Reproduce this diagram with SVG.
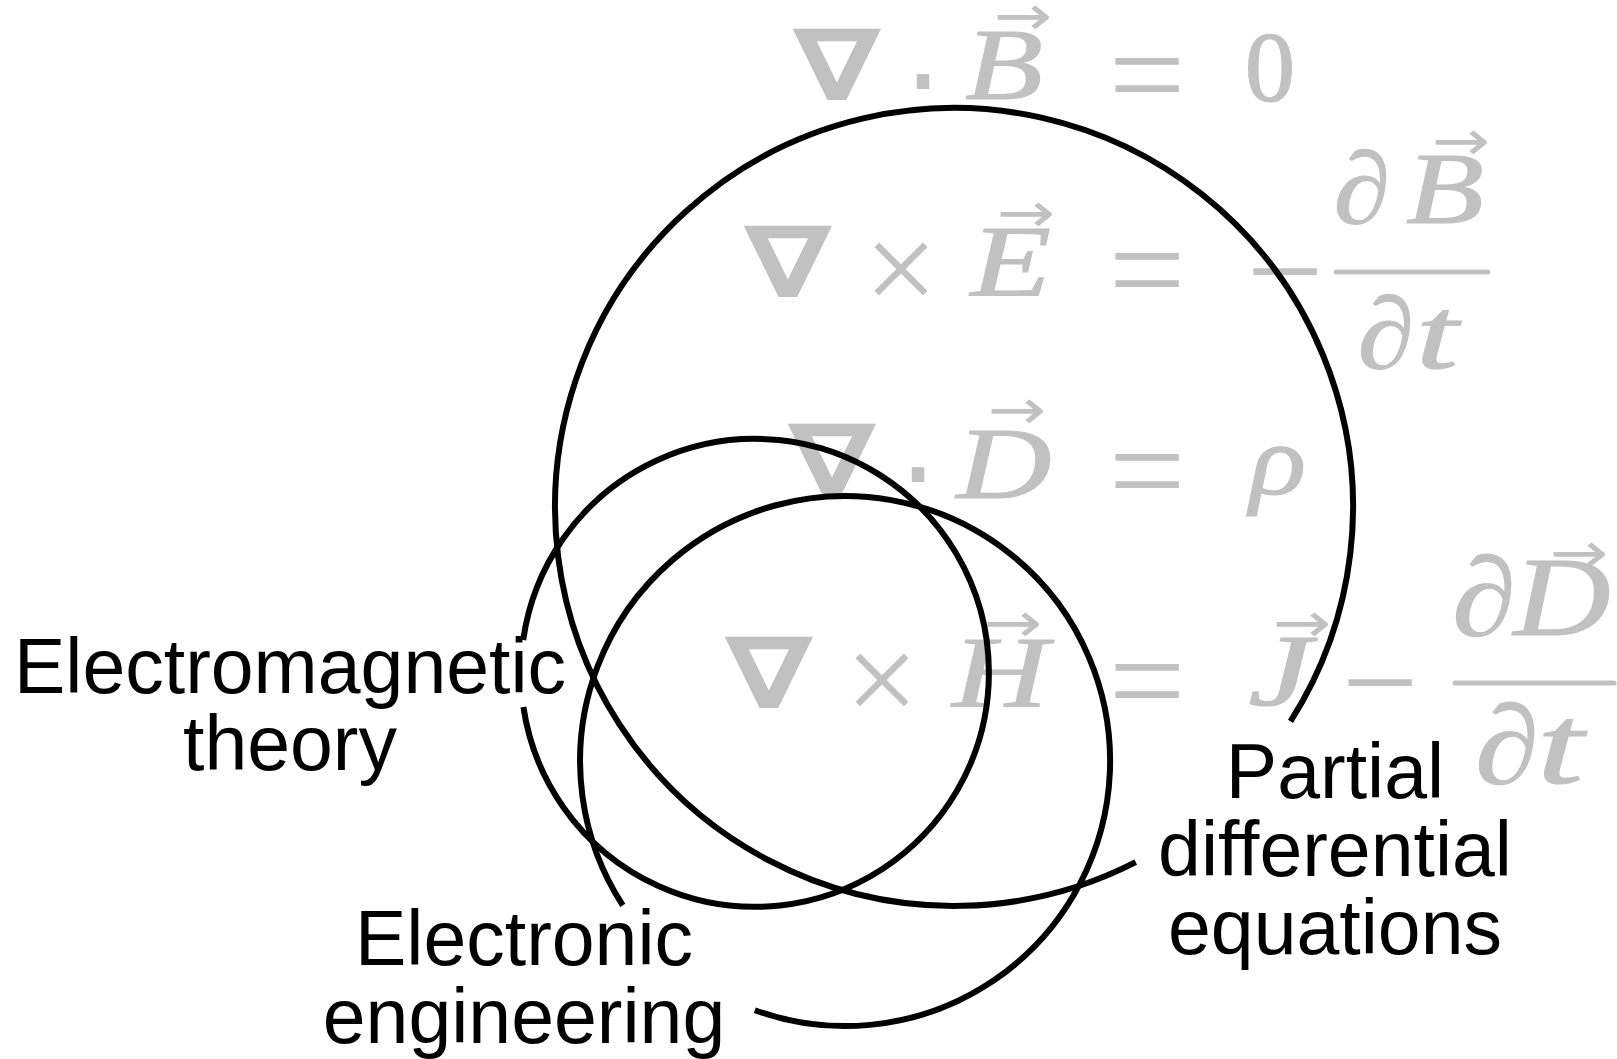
<svg xmlns="http://www.w3.org/2000/svg" width="1617" height="1059" viewBox="0 0 1617 1059">
<style>
.m{fill:#c1c1c1;text-anchor:middle}
.v{font-family:"Liberation Serif",serif;font-style:italic;font-size:102px;stroke:#c1c1c1;stroke-width:1.2}
.u{font-family:"Liberation Serif",serif;font-size:100px;stroke:#c1c1c1;stroke-width:1.5}
.op{font-family:"Liberation Serif",serif;font-size:136px}
.x{font-family:"Liberation Serif",serif;font-size:130px}
.dot{font-family:"DejaVu Sans",sans-serif;font-size:120px}
.nab{font-family:"DejaVu Sans",sans-serif;font-weight:bold;font-size:99px}
.arr{font-family:"DejaVu Sans",sans-serif;font-size:56px}
.big{font-size:112px}
.bar{stroke:#c1c1c1;stroke-width:5;stroke-linecap:round}
.c{fill:none;stroke:#000;stroke-width:6}
.lbl{font-family:"Liberation Sans",Arial,sans-serif;font-size:77px;fill:#000;text-anchor:middle}
</style>
<g id="equations">
<g id="eq1">
<text class="m nab" transform="translate(837 100) scale(1.28 1)">∇</text>
<text class="m dot" x="923" y="123">·</text>
<text class="m v" transform="translate(1004 99) scale(1.25 1)">B</text>
<text class="m arr" transform="translate(1023 35) scale(1.25 1)">→</text>
<text class="m op" x="1147" y="120">=</text>
<text class="m u" x="1270" y="100">0</text>
</g>
<g id="eq2">
<text class="m nab" transform="translate(788 297) scale(1.28 1)">∇</text>
<text class="m x" x="901" y="312">×</text>
<text class="m v" transform="translate(1011 296) scale(1.29 1)">E</text>
<text class="m arr" transform="translate(1026 232) scale(1.25 1)">→</text>
<text class="m op" x="1147" y="315">=</text>
<text class="m op" x="1285" y="317">−</text>
<line class="bar" x1="1336" y1="272" x2="1488" y2="272"/>
<text class="m v" transform="translate(1362 223) scale(1.12 1)">∂</text>
<text class="m v" transform="translate(1445 223) scale(1.25 1)">B</text>
<text class="m arr" transform="translate(1461 160) scale(1.25 1)">→</text>
<text class="m v" transform="translate(1386 368) scale(1.12 1)">∂</text>
<text class="m v" transform="translate(1437 368) scale(1.5 1)">t</text>
</g>
<g id="eq3">
<text class="m nab" transform="translate(832 495) scale(1.28 1)">∇</text>
<text class="m dot" x="918" y="516">·</text>
<text class="m v" transform="translate(1004 498) scale(1.29 1)">D</text>
<text class="m arr" transform="translate(1017 429) scale(1.25 1)">→</text>
<text class="m op" x="1147" y="516">=</text>
<text class="m v" transform="translate(1278 494) scale(1.15 1)">ρ</text>
</g>
<g id="eq4">
<text class="m nab" transform="translate(769 708) scale(1.28 1)">∇</text>
<text class="m x" x="882" y="723">×</text>
<text class="m v" transform="translate(1000 707) scale(1.3 1)">H</text>
<text class="m arr" transform="translate(1013 642) scale(1.25 1)">→</text>
<text class="m op" x="1147" y="726">=</text>
<text class="m v" transform="translate(1280 705) scale(1.4 1)">J</text>
<text class="m arr" transform="translate(1302 642) scale(1.25 1)">→</text>
<text class="m op" x="1380" y="728">−</text>
<line class="bar" x1="1455" y1="683" x2="1614" y2="683"/>
<text class="m v big" transform="translate(1484 635) scale(1.15 1)">∂</text>
<text class="m v big" transform="translate(1562 635) scale(1.2 1)">D</text>
<text class="m arr" transform="translate(1579 572) scale(1.25 1)">→</text>
<text class="m v big" transform="translate(1507 783) scale(1.15 1)">∂</text>
<text class="m v big" transform="translate(1560 783) scale(1.5 1)">t</text>
</g>
</g>
<g id="node-pde">
<path class="c" d="M 1290.5 721.4 A 399 399 0 1 0 1135.7 862.2"/>
<text class="lbl" x="1335" y="798">Partial</text>
<text class="lbl" x="1335" y="876">differential</text>
<text class="lbl" x="1335" y="954">equations</text>
</g>
<g id="node-em">
<path class="c" d="M 523.4 707 A 234 234 0 1 0 523.2 640"/>
<text class="lbl" x="290" y="693">Electromagnetic</text>
<text class="lbl" x="290" y="770">theory</text>
</g>
<g id="node-ee">
<path class="c" d="M 754.8 1010.2 A 265 265 0 1 0 622.8 905.3"/>
<text class="lbl" x="524" y="965">Electronic</text>
<text class="lbl" x="524" y="1043">engineering</text>
</g>
<g id="connectors"/>
</svg>
